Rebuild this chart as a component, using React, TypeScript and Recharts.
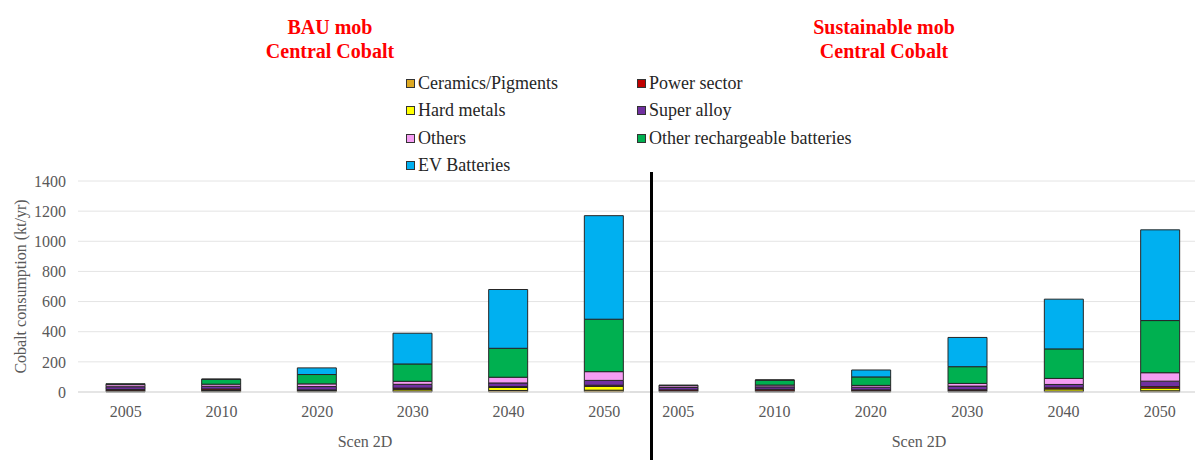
import { BarChart, Bar, XAxis, YAxis, CartesianGrid } from 'recharts';

const YEARS = ['2005', '2010', '2020', '2030', '2040', '2050'];
const Y_TICKS = [0, 200, 400, 600, 800, 1000, 1200, 1400];

// BAU mob, Central Cobalt (kt/yr)
const BAU_CERAMICS = [4, 4, 4, 7, 10, 12];
const BAU_HARD_METALS = [5, 6, 6, 11, 20, 25];
const BAU_POWER = [8, 10, 4, 8, 6, 8];
const BAU_SUPER_ALLOY = [18, 18, 22, 25, 24, 32];
const BAU_OTHERS = [14, 14, 18, 20, 38, 58];
const BAU_OTHER_RECH = [6, 32, 62, 115, 192, 348];
const BAU_EV = [0, 2, 44, 204, 390, 687];

// Sustainable mob, Central Cobalt (kt/yr)
const SUS_CERAMICS = [3, 3, 3, 3, 6, 8];
const SUS_HARD_METALS = [4, 5, 5, 6, 14, 18];
const SUS_POWER = [7, 10, 6, 6, 8, 10];
const SUS_SUPER_ALLOY = [16, 16, 18, 24, 22, 36];
const SUS_OTHERS = [12, 12, 12, 18, 40, 56];
const SUS_OTHER_RECH = [4, 33, 56, 111, 196, 346];
const SUS_EV = [0, 1, 46, 194, 330, 602];

// legend order (two columns, read row by row)
const SERIES = [
  { key: 'ceramics', name: 'Ceramics/Pigments', color: '#DDA822' },
  { key: 'power', name: 'Power sector', color: '#C00000' },
  { key: 'hard', name: 'Hard metals', color: '#FFFF00' },
  { key: 'superAlloy', name: 'Super alloy', color: '#7030A0' },
  { key: 'others', name: 'Others', color: '#F59DF3' },
  { key: 'otherRech', name: 'Other rechargeable batteries', color: '#00B050' },
  { key: 'ev', name: 'EV Batteries', color: '#00B0F0' },
];

// stacking order, bottom to top
const STACK = ['ceramics', 'hard', 'power', 'superAlloy', 'others', 'otherRech', 'ev'];

const bauData = YEARS.map((year, i) => ({
  year,
  ceramics: BAU_CERAMICS[i],
  hard: BAU_HARD_METALS[i],
  power: BAU_POWER[i],
  superAlloy: BAU_SUPER_ALLOY[i],
  others: BAU_OTHERS[i],
  otherRech: BAU_OTHER_RECH[i],
  ev: BAU_EV[i],
}));

const susData = YEARS.map((year, i) => ({
  year,
  ceramics: SUS_CERAMICS[i],
  hard: SUS_HARD_METALS[i],
  power: SUS_POWER[i],
  superAlloy: SUS_SUPER_ALLOY[i],
  others: SUS_OTHERS[i],
  otherRech: SUS_OTHER_RECH[i],
  ev: SUS_EV[i],
}));

const FONT = '"Liberation Serif", "Times New Roman", serif';
const TEXT = '#595959';

function Panel({ data, width, showY }: { data: typeof bauData; width: number; showY: boolean }) {
  return (
    <BarChart width={width} height={460} data={data} margin={{ top: 181, right: 0, bottom: 0, left: 0 }}>
      <CartesianGrid vertical={false} stroke="#E4E4E4" />
      <XAxis
        dataKey="year"
        height={68}
        tickSize={0}
        tickMargin={14}
        axisLine={{ stroke: '#D9D9D9' }}
        tick={{ fill: TEXT, fontSize: 16, fontFamily: FONT }}
        label={{ value: 'Scen 2D', position: 'insideBottom', offset: 13, fill: TEXT, fontSize: 16, fontFamily: FONT }}
      />
      <YAxis
        hide={!showY}
        width={78}
        domain={[0, 1400]}
        ticks={Y_TICKS}
        tickSize={0}
        tickMargin={12}
        axisLine={false}
        tickLine={false}
        tick={{ fill: TEXT, fontSize: 16, fontFamily: FONT }}
        label={{
          value: 'Cobalt consumption (kt/yr)',
          angle: -90,
          position: 'insideLeft',
          offset: 20,
          fill: TEXT,
          fontSize: 16,
          fontFamily: FONT,
          style: { textAnchor: 'middle' },
        }}
      />
      {STACK.map((k) => {
        const s = SERIES.find((x) => x.key === k)!;
        return (
          <Bar
            key={k}
            dataKey={k}
            name={s.name}
            stackId="a"
            fill={s.color}
            stroke="#262626"
            strokeWidth={1}
            barSize={39}
            isAnimationActive={false}
          />
        );
      })}
    </BarChart>
  );
}

export default function App() {
  const titleStyle: React.CSSProperties = {
    position: 'absolute',
    top: 15,
    width: 260,
    textAlign: 'center',
    color: '#FF0000',
    fontWeight: 'bold',
    fontSize: 20,
    lineHeight: '24px',
    fontFamily: FONT,
  };

  return (
    <div
      style={{
        position: 'fixed',
        left: 0,
        top: 0,
        width: 1195,
        height: 460,
        overflow: 'hidden',
        background: '#fff',
        fontFamily: FONT,
      }}
    >
      <div style={{ ...titleStyle, left: 330 - 130 }}>
        BAU mob
        <br />
        Central Cobalt
      </div>
      <div style={{ ...titleStyle, left: 884 - 130 }}>
        Sustainable mob
        <br />
        Central Cobalt
      </div>

      {/* legend */}
      {SERIES.map((s, i) => {
        const col = i % 2;
        const row = Math.floor(i / 2);
        return (
          <div
            key={s.key}
            style={{
              position: 'absolute',
              left: col === 0 ? 406 : 637,
              top: 83 + row * 27.5 - 13,
              height: 26,
              display: 'flex',
              alignItems: 'center',
              fontSize: 18,
              color: '#262626',
              whiteSpace: 'nowrap',
            }}
          >
            <span
              style={{
                display: 'inline-block',
                width: 7,
                height: 7,
                background: s.color,
                border: '1px solid #333',
                marginRight: 3,
              }}
            />
            {s.name}
          </div>
        );
      })}

      <div style={{ position: 'absolute', left: 0, top: 0 }}>
        <Panel data={bauData} width={652} showY />
      </div>
      <div style={{ position: 'absolute', left: 630, top: 0 }}>
        <Panel data={susData} width={578} showY={false} />
      </div>

      {/* separator between the two scenarios */}
      <div style={{ position: 'absolute', left: 650, top: 172, width: 3, height: 288, background: '#000' }} />
    </div>
  );
}
